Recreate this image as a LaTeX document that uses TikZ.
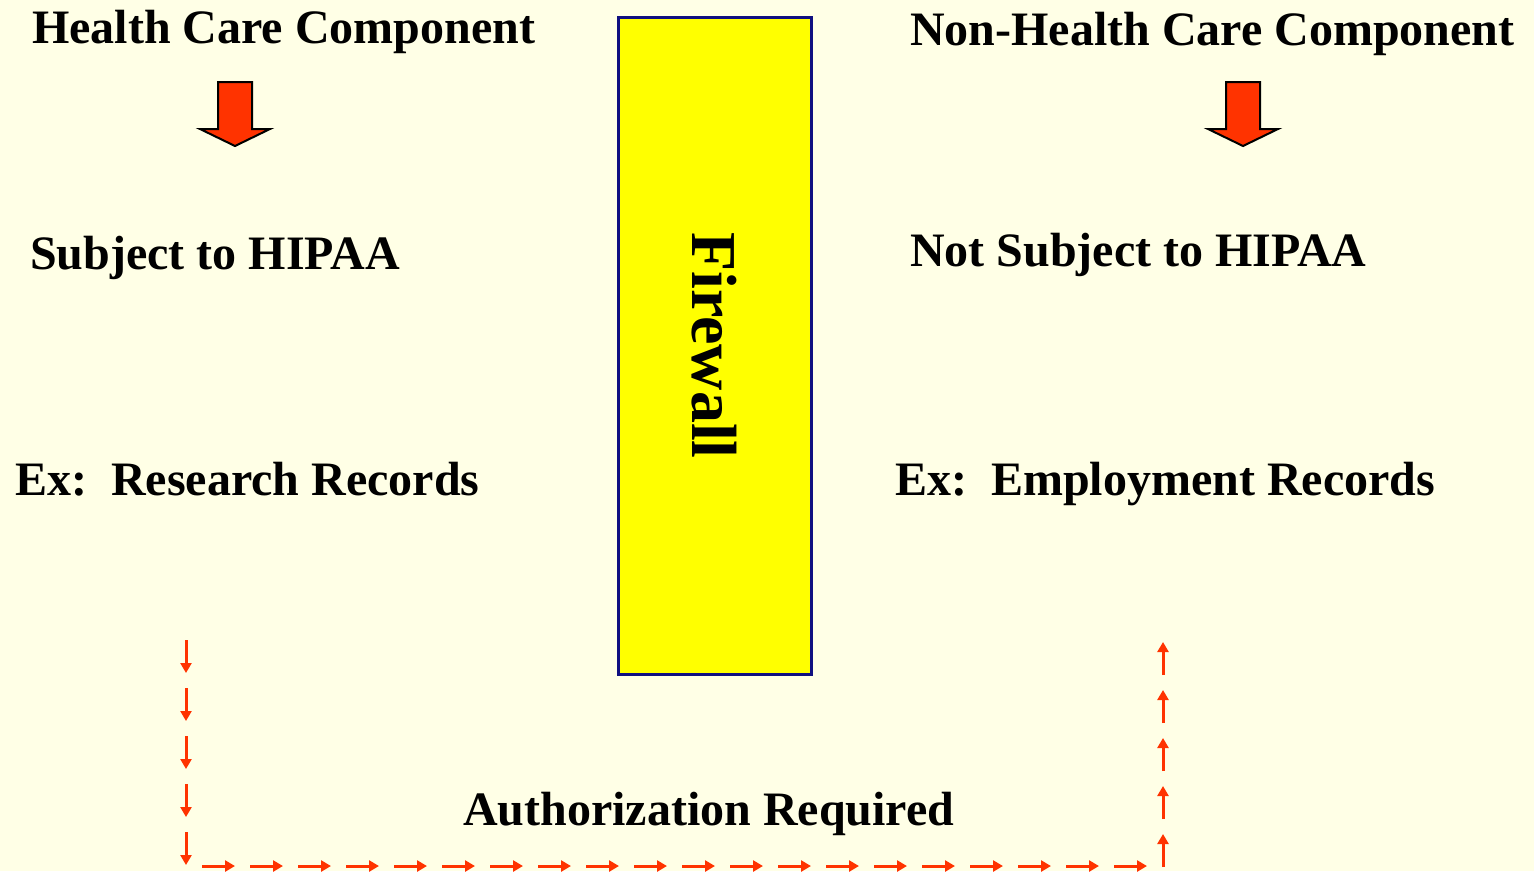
\documentclass[tikz,border=0pt]{standalone}
\usepackage{fontspec}
\setmainfont{Liberation Serif}
\usepackage{tikz}
\usetikzlibrary{arrows.meta, decorations.markings}

\definecolor{bgcream}{HTML}{FFFFE6}
\definecolor{arrowred}{HTML}{FF3300}
\definecolor{wallnavy}{HTML}{101080}
\definecolor{wallyellow}{HTML}{FFFF00}

\tikzset{
    label/.style={anchor=base west, inner sep=0pt, font=\fontsize{48}{58}\selectfont\bfseries},
    wallbox/.style={draw=wallnavy, line width=3pt, fill=wallyellow, inner sep=0pt,
        font=\fontsize{64}{76}\selectfont\bfseries},
    bigarrow/.style={draw=black, line width=2pt, fill=arrowred, line join=miter},
    smallarrow/.style={arrowred, line width=3pt, -{Triangle[length=10pt, width=11pt]}},
    authpath/.style={decorate, decoration={markings,
        mark=between positions 0 and 1 step 48pt with {\draw[smallarrow] (0pt,0pt) -- (33pt,0pt);}}},
    bigdown/.pic={\draw[bigarrow] (-17,0) -- (17,0) -- (17,47) -- (35,47) -- (0,64)
        -- (-35,47) -- (-17,47) -- cycle;}
}

\begin{document}
\begin{tikzpicture}[x=1pt, y=-1pt]
    \fill[bgcream] (0,0) rectangle (1534,871);
    \useasboundingbox (0,0) rectangle (1534,871);

    % left side
    \node[label] (hcc) at (32,43) {Health Care Component};
    \node[label] (subj) at (30,269) {Subject to HIPAA};
    \node[label] (exres) at (15,495) {Ex:\ \ Research Records};
    \pic at (235,82) {bigdown};

    % right side
    \node[label] (nhcc) at (910,45) {Non-Health Care Component};
    \node[label] (notsubj) at (910,266) {Not Subject to HIPAA};
    \node[label] (exemp) at (895,495) {Ex:\ \ Employment Records};
    \pic at (1243,82) {bigdown};

    % the wall
    \node[wallbox, rotate=-90, minimum width=657pt, minimum height=193pt] (firewall)
        at (714.5,345.5) {Firewall};

    % authorization route
    \node[label] (auth) at (463,825) {Authorization Required};
    \coordinate (routetop) at (186,640);
    \coordinate (routeleft) at (186,866);
    \coordinate (routebase) at (202,866);
    \coordinate (routeright) at (1148,866);
    \coordinate (routeup) at (1163,867);
    \coordinate (routeend) at (1163,643);
    \path[authpath] (routetop) -- (routeleft);
    \path[authpath] (routebase) -- (routeright);
    \path[authpath] (routeup) -- (routeend);
\end{tikzpicture}
\end{document}
